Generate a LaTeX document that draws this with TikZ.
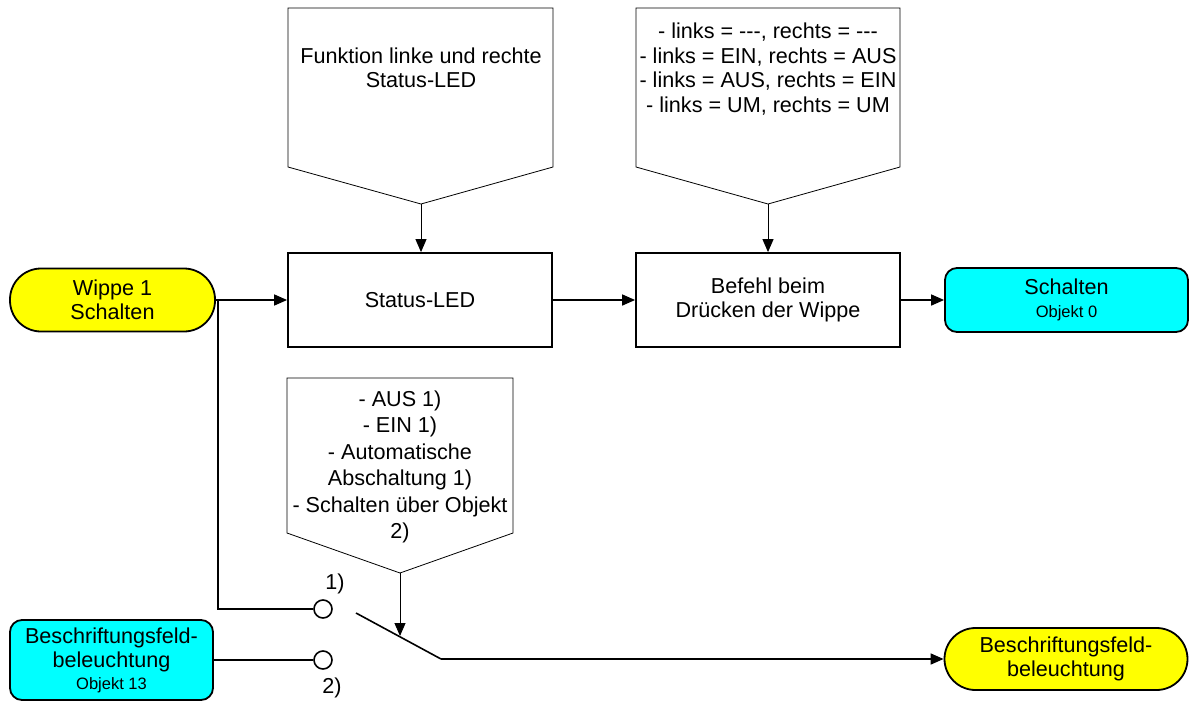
\documentclass[tikz,border=0pt]{standalone}
\usepackage{fontspec}
\setmainfont{Liberation Sans}
\usetikzlibrary{arrows.meta}
\newcommand\fbig{\fontsize{21.6}{24.5}\selectfont}
\newcommand\fsmall{\fontsize{16.5}{19}\selectfont}
\definecolor{yel}{RGB}{255,255,0}
\definecolor{cya}{RGB}{0,255,255}
\begin{document}
\begin{tikzpicture}[x=1pt,y=-1pt,
  tip/.style={-{Triangle[length=13pt,width=11pt]}},
  boxnode/.style={draw, line width=1.8pt, minimum width=264pt, minimum height=94pt, align=center, font=\fbig},
  yelnode/.style={draw, line width=1.8pt, fill=yel, rounded corners=31pt, align=center, font=\fbig, inner sep=0pt},
  cyanode/.style={draw, line width=1.8pt, fill=cya, rounded corners=12pt, align=center, font=\fbig, inner sep=0pt},
  penta/.style={draw, line width=0.8pt},
  txt/.style={align=center, font=\fbig, inner sep=0pt},
  wire/.style={draw, line width=1.6pt},
  thinwire/.style={draw, line width=1pt},
  pin/.style={circle, draw, line width=1.6pt, minimum size=18pt, inner sep=0pt, fill=white}
]
\useasboundingbox (0,0) rectangle (1192,702);

% main nodes
\node[yelnode, minimum width=205pt, minimum height=63pt] (wippe) at (112.5,300) {Wippe 1\\Schalten};
\node[boxnode] (status) at (420,300) {Status-LED};
\node[boxnode] (befehl) at (768,300) {Befehl beim\\Drücken der Wippe};
\node[cyanode, minimum width=243pt, minimum height=64pt] (schalten) at (1066.5,300) {Schalten\\[-2pt]{\fsmall Objekt 0}};
\node[cyanode, minimum width=203pt, minimum height=80pt] (besch) at (111.5,660) {Beschriftungsfeld-\\beleuchtung\\[-3pt]{\fsmall Objekt 13}};
\node[yelnode, minimum width=243pt, minimum height=62pt] (bout) at (1066,659) {Beschriftungsfeld-\\beleuchtung};

% pentagon 1
\draw[penta] (288,8) -- (553,8) -- (553,167) -- (421,204) -- (288,167) -- cycle;
\coordinate (p1) at (421,204);
\node[txt] (t1) at (421,68) {Funktion linke und rechte\\Status-LED};

% pentagon 2
\draw[penta] (636,8) -- (900,8) -- (900,167) -- (768,204) -- (636,167) -- cycle;
\coordinate (p2) at (768,204);
\node[txt] (t2) at (768,69) {- links = {-}{-}{-}, rechts = {-}{-}{-}\\- links = EIN, rechts = AUS\\- links = AUS, rechts = EIN\\- links = UM, rechts = UM};

% pentagon 3
\draw[penta] (287,378) -- (513,378) -- (513,533) -- (400,573) -- (287,533) -- cycle;
\coordinate (p3) at (400,573);
\node[txt, font=\fontsize{21.6}{26.5}\selectfont] (t3) at (400,467) {- AUS 1)\\- EIN 1)\\- Automatische\\Abschaltung 1)\\- Schalten über Objekt\\2)};

% arrows from pentagons
\draw[thinwire, tip] (p1) -- (p1 |- status.north);
\draw[thinwire, tip] (p2) -- (p2 |- befehl.north);

% main chain
\draw[wire, tip] (wippe.east) -- (status.west);
\draw[wire, tip] (status.east) -- (befehl.west);
\draw[wire, tip] (befehl.east) -- (schalten.west);

% switch
\node[pin] (c1) at (323,609) {};
\node[pin] (c2) at (323,660) {};
\coordinate (br) at (218,300);
\draw[wire] (br) |- (c1.west);
\draw[wire] (besch.east) -- (c2.west);
\coordinate (lv1) at (356,613);
\coordinate (lv2) at (441,659);
\draw[wire] (lv1) -- (lv2);
\draw[wire, tip] (lv2) -- (lv2 -| bout.west);
\coordinate (sw) at (400,636);
\draw[thinwire, tip] (p3) -- (sw);

\node[txt] (lab1) at (335,584) {1)};
\node[txt] (lab2) at (332,688) {2)};
\end{tikzpicture}
\end{document}
